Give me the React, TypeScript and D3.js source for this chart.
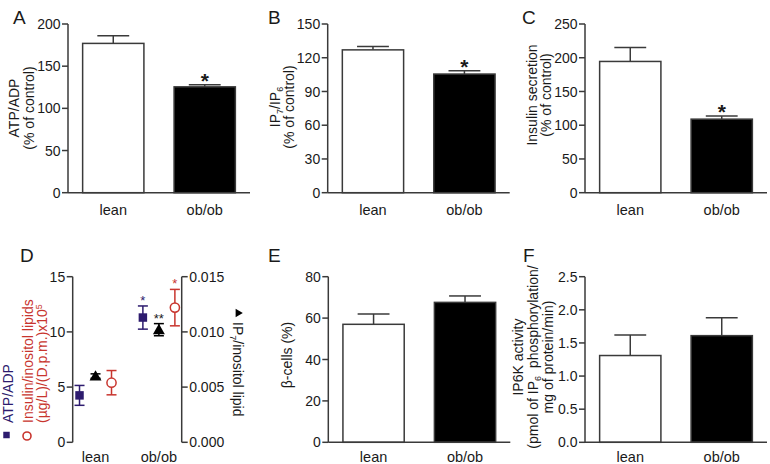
import React from "react";
import * as d3 from "d3";

// ---------- data ----------
const categories = ["lean", "ob/ob"];

const atpAdpPct = [177, 125.5];
const atpAdpPctErr = [9, 2.5];

const ip7Ip6Pct = [127, 105.5];
const ip7Ip6PctErr = [3, 3];

const insulinPct = [194.5, 109];
const insulinPctErr = [20.5, 4.5];

const betaCellsPct = [57, 67.6];
const betaCellsPctErr = [5, 3.1];

const ip6kActivity = [1.31, 1.61];
const ip6kActivityErr = [0.31, 0.27];

// panel D
const dAtpAdp = [4.25, 11.3];
const dAtpAdpErr = [0.9, 1.05];
const dIp7Lipid = [0.006, 0.0102];
const dIp7LipidErr = [0.0002, 0.00055];
const dInsulinLipid = [5.4, 12.2];
const dInsulinLipidErr = [1.1, 1.65];
const dSeries = ["atp", "ip7", "ins"];

const ticksA = [0, 50, 100, 150, 200];
const ticksB = [0, 30, 60, 90, 120, 150];
const ticksC = [0, 50, 100, 150, 200, 250];
const ticksE = [0, 20, 40, 60, 80];
const ticksF = [0, 0.5, 1.0, 1.5, 2.0, 2.5];
const ticksDLeft = [0, 5, 10, 15];
const ticksDRight = [0, 0.005, 0.01, 0.015];

// ---------- style ----------
const FONT = "'Liberation Sans', Arial, Helvetica, sans-serif";
const AX = "#3a3a3a";
const TXT = "#1a1a1a";
const NAVY = "#2d1b6e";
const RED = "#c8352e";
const TICK_FS = 14;
const LAB_FS = 14;
const CAT_FS = 14.5;

type BarProps = {
  axisX: number;
  top: number;
  bottom: number;
  max: number;
  ticks: number[];
  fmt?: (v: number) => string;
  values: number[];
  errs: number[];
  stars?: string[];
  letter: string;
  letterX: number;
  letterY: number;
  catY: number;
  children?: React.ReactNode;
};

function YAxis({ x, y, ticks, fmt, side = "left" }: any) {
  const [r0, r1] = y.range();
  const dir = side === "left" ? -1 : 1;
  return (
    <g>
      <line x1={x} x2={x} y1={r0} y2={r1} stroke={AX} strokeWidth={1.5} />
      {ticks.map((t: number) => (
        <g key={t}>
          <line x1={x} x2={x + dir * 6} y1={y(t)} y2={y(t)} stroke={AX} strokeWidth={1.5} />
          <text
            x={x + dir * 7.5}
            y={y(t)}
            dy="0.36em"
            textAnchor={side === "left" ? "end" : "start"}
            fontSize={TICK_FS}
            fill={TXT}
          >
            {fmt ? fmt(t) : String(t)}
          </text>
        </g>
      ))}
    </g>
  );
}

function BarPanel(p: BarProps) {
  const x = d3
    .scaleBand<string>()
    .domain(categories)
    .range([p.axisX, p.axisX + 182])
    .paddingInner(0.33)
    .paddingOuter(0.16);
  const y = d3.scaleLinear().domain([0, p.max]).range([p.bottom, p.top]);
  const bw = x.bandwidth();
  const capW = bw * 0.52;
  return (
    <g>
      {categories.map((c, i) => {
        const cx = (x(c) as number) + bw / 2;
        const yt = y(p.values[i]);
        const ye = y(p.values[i] + p.errs[i]);
        return (
          <g key={c}>
            <line x1={cx} x2={cx} y1={yt} y2={ye} stroke={AX} strokeWidth={1.5} />
            <line x1={cx - capW / 2} x2={cx + capW / 2} y1={ye} y2={ye} stroke={AX} strokeWidth={1.5} />
            <rect
              x={x(c)}
              y={yt}
              width={bw}
              height={p.bottom - yt}
              fill={i === 0 ? "#ffffff" : "#000000"}
              stroke={AX}
              strokeWidth={1.5}
            />
            {p.stars && p.stars[i] ? (
              <text x={cx} y={ye + 3} textAnchor="middle" fontSize={21} fontWeight="bold" fill={TXT}>
                {p.stars[i]}
              </text>
            ) : null}
            <text x={cx} y={p.catY} textAnchor="middle" fontSize={CAT_FS} fill={TXT}>
              {c}
            </text>
          </g>
        );
      })}
      <line x1={p.axisX} x2={p.axisX + 182} y1={p.bottom} y2={p.bottom} stroke={AX} strokeWidth={1.5} />
      <YAxis x={p.axisX} y={y} ticks={p.ticks} fmt={p.fmt} />
      <text x={p.letterX} y={p.letterY} fontSize={19} fill={TXT}>
        {p.letter}
      </text>
      {p.children}
    </g>
  );
}

function RotLabel({ x, y, anchor = "middle", rot = -90, fill = TXT, fs = LAB_FS, children }: any) {
  return (
    <text
      transform={`translate(${x},${y}) rotate(${rot})`}
      textAnchor={anchor}
      fontSize={fs}
      fill={fill}
    >
      {children}
    </text>
  );
}

function PanelD() {
  const axL = 72.7;
  const axR = 181.7;
  const top = 276.7;
  const bottom = 442.3;
  const xs = d3.scalePoint<string>().domain(categories).range([axL, axR]).padding(0.36);
  const off = d3.scalePoint<string>().domain(dSeries).range([-16, 16]);
  const yL = d3.scaleLinear().domain([0, 15]).range([bottom, top]);
  const yR = d3.scaleLinear().domain([0, 0.015]).range([bottom, top]);

  const eb = (cx: number, y0: number, y1: number, color: string, key: string) => (
    <g key={key} stroke={color} strokeWidth={1.5}>
      <line x1={cx} x2={cx} y1={y0} y2={y1} />
      <line x1={cx - 5} x2={cx + 5} y1={y0} y2={y0} />
      <line x1={cx - 5} x2={cx + 5} y1={y1} y2={y1} />
    </g>
  );
  const tri = d3.symbol(d3.symbolTriangle, 62)();
  const sq = d3.symbol(d3.symbolSquare, 72)();

  return (
    <g>
      <YAxis x={axL} y={yL} ticks={ticksDLeft} />
      <YAxis x={axR} y={yR} ticks={ticksDRight} fmt={d3.format(".3f")} side="right" />
      {categories.map((c, i) => {
        const base = xs(c) as number;
        const xa = base + (off("atp") as number);
        const xt = base + (off("ip7") as number);
        const xi = base + (off("ins") as number);
        return (
          <g key={c}>
            {eb(xa, yL(dAtpAdp[i] + dAtpAdpErr[i]), yL(dAtpAdp[i] - dAtpAdpErr[i]), NAVY, "a")}
            <path d={sq as string} transform={`translate(${xa},${yL(dAtpAdp[i])})`} fill={NAVY} />
            {eb(xt, yR(dIp7Lipid[i] + dIp7LipidErr[i]), yR(dIp7Lipid[i] - dIp7LipidErr[i]), "#000", "t")}
            <path d={tri as string} transform={`translate(${xt},${yR(dIp7Lipid[i]) + 1})`} fill="#000" />
            {eb(xi, yL(dInsulinLipid[i] + dInsulinLipidErr[i]), yL(dInsulinLipid[i] - dInsulinLipidErr[i]), RED, "i")}
            <circle cx={xi} cy={yL(dInsulinLipid[i])} r={4.6} fill="#fff" stroke={RED} strokeWidth={1.5} />
            {i === 1 ? (
              <g fontSize={13} textAnchor="middle">
                <text x={xa} y={yL(dAtpAdp[i] + dAtpAdpErr[i]) - 1} fill={NAVY}>*</text>
                <text x={xt} y={yR(dIp7Lipid[i] + dIp7LipidErr[i]) - 1} fill={TXT}>**</text>
                <text x={xi} y={yL(dInsulinLipid[i] + dInsulinLipidErr[i]) - 1} fill={RED}>*</text>
              </g>
            ) : null}
            <text x={base} y={462} textAnchor="middle" fontSize={CAT_FS} fill={TXT}>
              {c}
            </text>
          </g>
        );
      })}
      <text x={20} y={262} fontSize={19} fill={TXT}>D</text>
      {/* left legend labels */}
      <RotLabel x={13} y={423} anchor="start" fill={NAVY}>ATP/ADP</RotLabel>
      <RotLabel x={33} y={423} anchor="start" fill={RED}>Insulin/inositol lipids</RotLabel>
      <RotLabel x={46.5} y={423} anchor="start" fill={RED}>
        (µg/L)/(D.p.m.)x10
        <tspan dy={-5} fontSize={9}>5</tspan>
      </RotLabel>
      <path d={d3.symbol(d3.symbolSquare, 42)() as string} transform="translate(6.5,435)" fill={NAVY} />
      <circle cx={27} cy={436} r={4} fill="#fff" stroke={RED} strokeWidth={1.6} />
      {/* right label */}
      <path d={d3.symbol(d3.symbolTriangle, 30)() as string} transform="translate(238,313) rotate(90)" fill="#000" />
      <RotLabel x={233} y={322} anchor="start" rot={90}>
        IP
        <tspan dy={3} fontSize={9}>7</tspan>
        <tspan dy={-3}>/inositol lipid</tspan>
      </RotLabel>
    </g>
  );
}

export default function App() {
  const r1Top = 24;
  const r1Bot = 192.7;
  const r2Top = 276.7;
  const r2Bot = 442.3;
  return (
    <svg
      width={770}
      height={464}
      style={{ position: "absolute", left: 0, top: 0, background: "#fff" }}
      fontFamily={FONT}
    >
      <rect width={770} height={464} fill="#fff" />
      <BarPanel
        axisX={68}
        top={r1Top}
        bottom={r1Bot}
        max={200}
        ticks={ticksA}
        values={atpAdpPct}
        errs={atpAdpPctErr}
        stars={["", "*"]}
        letter="A"
        letterX={13}
        letterY={24}
        catY={215}
      >
        <RotLabel x={19} y={108}>ATP/ADP</RotLabel>
        <RotLabel x={34} y={108}>(% of control)</RotLabel>
      </BarPanel>
      <BarPanel
        axisX={327.7}
        top={r1Top}
        bottom={r1Bot}
        max={150}
        ticks={ticksB}
        values={ip7Ip6Pct}
        errs={ip7Ip6PctErr}
        stars={["", "*"]}
        letter="B"
        letterX={268}
        letterY={24}
        catY={215}
      >
        <RotLabel x={280} y={107}>
          IP<tspan dy={3} fontSize={9}>7</tspan>
          <tspan dy={-3}>/IP</tspan>
          <tspan dy={3} fontSize={9}>6</tspan>
        </RotLabel>
        <RotLabel x={294} y={107}>(% of control)</RotLabel>
      </BarPanel>
      <BarPanel
        axisX={585}
        top={r1Top}
        bottom={r1Bot}
        max={250}
        ticks={ticksC}
        values={insulinPct}
        errs={insulinPctErr}
        stars={["", "*"]}
        letter="C"
        letterX={522}
        letterY={24}
        catY={215}
      >
        <RotLabel x={537} y={95}>Insulin secretion</RotLabel>
        <RotLabel x={551} y={95}>(% of control)</RotLabel>
      </BarPanel>
      <PanelD />
      <BarPanel
        axisX={328.3}
        top={r2Top}
        bottom={r2Bot}
        max={80}
        ticks={ticksE}
        values={betaCellsPct}
        errs={betaCellsPctErr}
        letter="E"
        letterX={268}
        letterY={262}
        catY={462}
      >
        <RotLabel x={292} y={355}>β-cells (%)</RotLabel>
      </BarPanel>
      <BarPanel
        axisX={585}
        top={r2Top}
        bottom={r2Bot}
        max={2.5}
        ticks={ticksF}
        fmt={d3.format(".1f")}
        values={ip6kActivity}
        errs={ip6kActivityErr}
        letter="F"
        letterX={523}
        letterY={262}
        catY={462}
      >
        <RotLabel x={523} y={357}>IP6K activity</RotLabel>
        <RotLabel x={538} y={357}>
          (pmol of IP<tspan dy={3} fontSize={9}>6</tspan>
          <tspan dy={-3}>{"\u00a0 phosphorylation/"}</tspan>
        </RotLabel>
        <RotLabel x={553} y={357}>mg of protein/min)</RotLabel>
      </BarPanel>
    </svg>
  );
}
